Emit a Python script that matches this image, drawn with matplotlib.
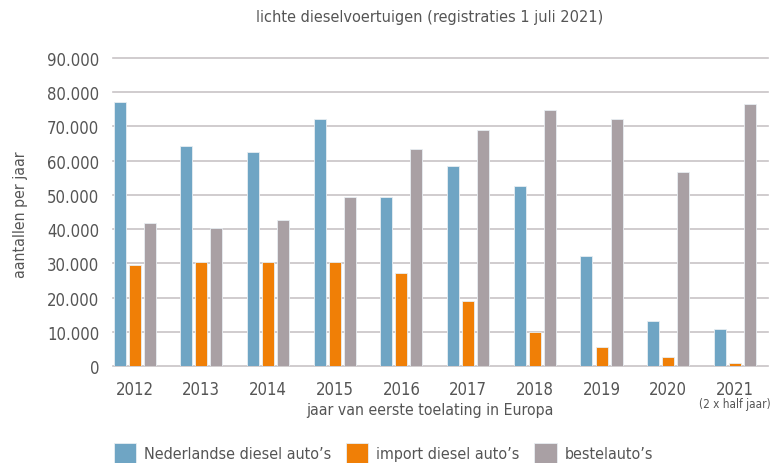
import matplotlib.pyplot as plt
import matplotlib.ticker as mticker
import numpy as np

plt.rcParams['font.family'] = ['DejaVu Sans']
plt.rcParams['font.stretch'] = 'condensed'

jaren = ['2012', '2013', '2014', '2015', '2016', '2017', '2018', '2019', '2020', '2021']
nl_diesel = [77200, 64200, 62500, 72300, 49300, 58300, 52600, 32000, 13200, 10700]
import_diesel = [29500, 30300, 30300, 30300, 27200, 18900, 9900, 5700, 2500, 800]
bestel = [41900, 40300, 42700, 49300, 63300, 69000, 74900, 72300, 56700, 76500]
series = ["Nederlandse diesel auto’s", "import diesel auto’s", "bestelauto’s"]
kleuren = ['#6fa5c4', '#f07f06', '#a9a0a4']
tekst = '#555555'

fig = plt.figure(figsize=(7.76, 4.64), dpi=100)
ax = fig.add_axes([0.146, 0.209, 0.844, 0.664])

x = np.arange(len(jaren))
w = 0.18
d = 0.225
for i, (vals, lab, c) in enumerate(zip([nl_diesel, import_diesel, bestel], series, kleuren)):
    ax.bar(x + (i - 1) * d, vals, width=w, color=c, label=lab,
           edgecolor='#e8eef2', linewidth=0.6, zorder=3)

ax.set_xlim(-0.32, 9.5)
ax.set_ylim(0, 90000)
ax.set_yticks(np.arange(0, 90001, 10000))
ax.yaxis.set_major_formatter(mticker.FuncFormatter(lambda v, p: f'{int(v):,}'.replace(',', '.')))
ax.grid(axis='y', color='#c8c3c6', linewidth=1.2, zorder=0)
for g in ax.get_ygridlines():
    g.set_clip_on(False)
for s in ax.spines.values():
    s.set_visible(False)
ax.tick_params(axis='both', length=0, colors=tekst, labelsize=12)
ax.tick_params(axis='y', pad=10)
ax.tick_params(axis='x', pad=10)
ax.set_xticks(x)
ax.set_xticklabels(jaren)

fig.text(0.554, 0.962, 'lichte dieselvoertuigen (registraties 1 juli 2021)',
         ha='center', va='center', fontsize=11.7, color=tekst)
fig.text(0.027, 0.537, 'aantallen per jaar', rotation=90, ha='center', va='center',
         fontsize=11.3, color=tekst)
fig.text(0.554, 0.115, 'jaar van eerste toelating in Europa', ha='center', va='center',
         fontsize=11.3, color=tekst)
fig.text(0.947, 0.128, '(2 x half jaar)', ha='center', va='center', fontsize=8.5, color=tekst)

fig.legend(loc='center left', bbox_to_anchor=(0.147, 0.022), ncol=3, frameon=False,
           fontsize=11.5, handlelength=1.4, handleheight=1.6, columnspacing=0.9,
           handletextpad=0.5, labelcolor=tekst, borderaxespad=0, borderpad=0)

fig.savefig('out.png', dpi=100)
